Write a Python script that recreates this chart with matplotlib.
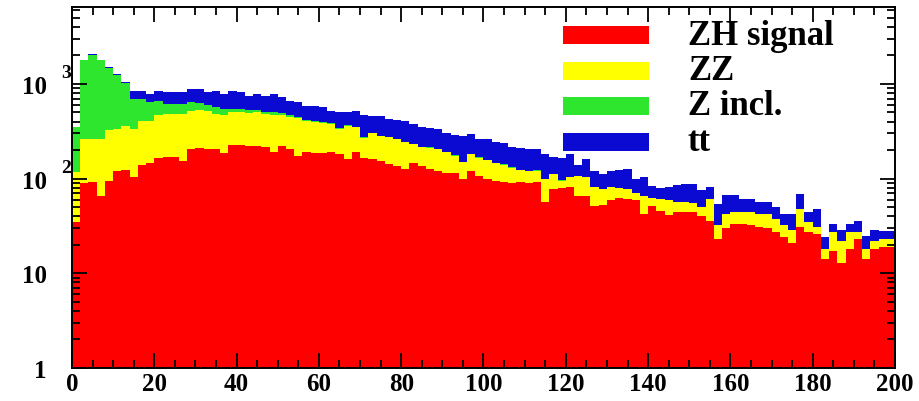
import numpy as np
import matplotlib.pyplot as plt
from matplotlib.patches import Rectangle
from matplotlib.ticker import MultipleLocator, LogLocator, FixedLocator, FixedFormatter, NullFormatter

# 100 bins of width 2 from 0 to 200
edges = np.arange(0, 202, 2)

zh_signal = [35, 90, 92, 66, 95, 120, 122, 103, 140, 145,
             165, 168, 170, 155, 205, 208, 205, 205, 188, 225,
             228, 222, 220, 215, 190, 220, 205, 174, 189, 188,
             185, 190, 182, 161, 189, 167, 161, 154, 142, 137,
             126, 146, 137, 126, 121, 116, 116, 99, 121, 106,
             100, 95, 91, 90, 92, 89, 91, 56, 78, 80,
             82, 66, 65, 52, 53, 60, 62, 61, 60, 42,
             52, 46, 41, 44, 44, 44, 40, 36, 23, 30,
             33, 33, 32, 31, 30, 27, 24, 21, 31, 27,
             26, 14, 17, 13, 18, 23, 14, 18, 19, 19]

zz = [82, 172, 168, 199, 235, 215, 238, 232, 265, 265,
      310, 312, 315, 325, 315, 317, 315, 275, 282, 275,
      277, 273, 280, 265, 285, 250, 245, 266, 221, 207,
      205, 190, 153, 199, 161, 103, 139, 126, 130, 125,
      116, 86, 78, 86, 84, 73, 59, 51, 61, 61,
      57, 50, 49, 41, 30, 31, 30, 42, 34, 15,
      22, 41, 40, 29, 25, 22, 18, 17, 10, 24,
      10, 15, 19, 13, 12, 11, 10, 25, 9, 12,
      11, 11, 12, 11, 12, 10, 8, 8, 17, 8,
      5, 4, 10, 9, 9, 4, 4, 4, 4, 4]

z_incl = [233, 1510, 1775, 1505, 1140, 910, 655, 358, 288, 230,
          185, 140, 130, 130, 120, 110, 85, 90, 80, 50,
          45, 40, 35, 30, 25, 18, 14, 11, 9, 7,
          6, 5, 4, 4, 3, 3, 3, 2, 2, 2,
          2, 2, 2, 2, 2, 1, 1, 1, 1, 1,
          1, 1, 1, 1, 1, 1, 1, 1, 1, 1] + [0] * 40

ttbar = [5, 30, 35, 30, 30, 25, 25, 155, 155, 143,
         188, 195, 200, 205, 243, 248, 210, 278, 233, 298,
         265, 216, 248, 241, 283, 233, 201, 187, 170, 187,
         169, 136, 161, 136, 168, 192, 157, 173, 156, 151,
         161, 143, 133, 131, 127, 110, 116, 134, 113, 97,
         103, 99, 99, 82, 87, 84, 84, 83, 57, 70,
         76, 33, 55, 40, 34, 38, 42, 48, 30, 37,
         22, 19, 21, 29, 32, 32, 25, 20, 22, 25,
         23, 17, 17, 14, 14, 13, 10, 13, 21, 9,
         17, 6, 6, 7, 6, 9, 7, 7, 5, 5]

labels = ['ZH signal', 'ZZ', 'Z incl.', 'tt']
colors = ['#ff0000', '#ffff00', '#2ee62e', '#0a0ad2']

serif = 'Liberation Serif'

fig = plt.figure(figsize=(9.2, 4.02), dpi=100)
ax = fig.add_axes([72 / 920, 1 - 369 / 402, 823 / 920, 361 / 402])
ax.set_yscale('log')

# stack: draw the cumulative sums from the biggest down so no seams show
stack = np.cumsum([zh_signal, zz, z_incl, ttbar], axis=0)
for i in range(3, -1, -1):
    ax.stairs(stack[i], edges, baseline=0.1, fill=True,
              color=colors[i], linewidth=0)

ax.set_xlim(0, 200)
ax.set_ylim(1, 6490)

ax.xaxis.set_major_locator(MultipleLocator(20))
ax.xaxis.set_minor_locator(MultipleLocator(5))
ax.yaxis.set_major_locator(FixedLocator([1, 10, 100, 1000]))
ax.yaxis.set_major_formatter(FixedFormatter(['1', '10', '10', '10']))
ax.yaxis.set_minor_locator(LogLocator(base=10, subs=np.arange(2, 10), numticks=20))
ax.yaxis.set_minor_formatter(NullFormatter())

ax.tick_params(which='both', direction='in', top=True, right=True, width=1.3)
ax.tick_params(which='major', length=11)
ax.tick_params(which='minor', length=5.5)
ax.tick_params(axis='x', which='major', pad=2.8)
ax.tick_params(axis='y', which='major', pad=18)
for lab in ax.get_xticklabels() + ax.get_yticklabels():
    lab.set_fontfamily(serif)
    lab.set_fontweight('bold')
    lab.set_fontsize(18)
for sp in ax.spines.values():
    sp.set_linewidth(1.4)

# exponents of the decade labels, set off from the "10"
for val, exp in [(100, '2'), (1000, '3')]:
    ax.annotate(exp, xy=(0, val), xycoords=('axes fraction', 'data'),
                xytext=(-6, 11), textcoords='offset pixels',
                ha='center', va='center', fontsize=14, fontweight='bold',
                fontfamily=serif)

# legend: colour bar and label per process
for i, (lab, col) in enumerate(zip(labels, colors)):
    yc = 36 + 35.5 * i
    ax.add_patch(Rectangle(((563 - 72) / 823, (369 - yc - 9) / 361),
                           86 / 823, 18 / 361, transform=ax.transAxes,
                           facecolor=col, edgecolor='none', zorder=5))
    ax.text((688 - 72) / 823, (369 - (45 + 35.2 * i)) / 361, lab,
            transform=ax.transAxes, ha='left', va='baseline',
            fontsize=25, fontweight='bold', fontfamily=serif, zorder=5)

fig.savefig('out.png', dpi=100)
